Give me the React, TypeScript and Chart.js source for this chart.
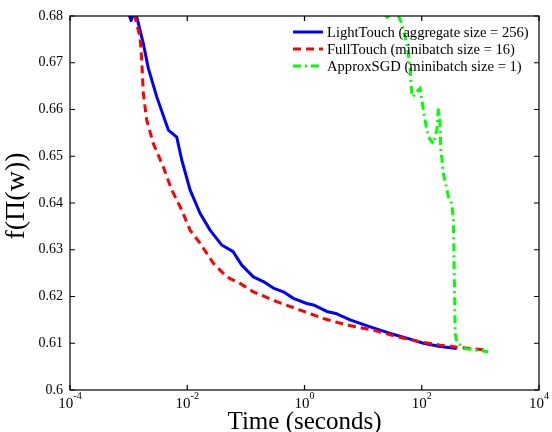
import { useEffect, useRef } from "react";
import { Chart, registerables } from "chart.js";

Chart.register(...registerables);

// ---- data ----
const seriesLabels = [
  "LightTouch (aggregate size = 256)",
  "FullTouch (minibatch size = 16)",
  "ApproxSGD (minibatch size = 1)",
];

const lightTouchX = [
  0.00101, 0.00110, 0.00121, 0.001374, 0.001782, 0.00217, 0.00302, 0.00476, 0.00662,
  0.00806, 0.01117, 0.01652, 0.0245, 0.0388, 0.0605, 0.0851, 0.134, 0.199, 0.294, 0.436,
  0.647, 1.094, 1.42, 2.40, 3.56, 6.0, 13.2, 28.9, 55.7, 107, 206, 397,
];
const lightTouchY = [
  0.6805, 0.6790, 0.6805, 0.6798, 0.6741, 0.6688, 0.6627, 0.6556, 0.6541,
  0.6492, 0.6428, 0.6378, 0.6342, 0.6310, 0.6296, 0.6267, 0.6242, 0.6232, 0.6218, 0.6210,
  0.6196, 0.6185, 0.6182, 0.6168, 0.6163, 0.6150, 0.6135, 0.6121, 0.6111, 0.6100, 0.6093, 0.6089,
];

const fullTouchX = [
  0.00121, 0.001285, 0.001566, 0.001675, 0.001782, 0.00204, 0.00264, 0.00391, 0.00544,
  0.00806, 0.01117, 0.0165, 0.0279, 0.0472, 0.0796, 0.134, 0.337, 0.841, 2.10, 5.27,
  15.0, 37.6, 94, 206, 452, 1130,
];
const fullTouchY = [
  0.6803, 0.6798, 0.6755, 0.6705, 0.6634, 0.6577, 0.6527, 0.6477, 0.6428,
  0.6385, 0.6342, 0.6314, 0.6271, 0.6242, 0.6228, 0.6210, 0.6189, 0.6171, 0.6153, 0.6139,
  0.6128, 0.6114, 0.6103, 0.6096, 0.6091, 0.6086,
];

const approxSgdX = [
  22.8, 25.7, 31.3, 40.0, 45.7, 55.7, 63.4, 67.8, 71.3, 82.4, 93.9, 100.4, 114, 130,
  158, 181, 193, 206, 210, 234, 286, 326, 347, 357, 372, 397, 530, 1360,
];
const approxSgdY = [
  0.6806, 0.6797, 0.6806, 0.6800, 0.6784, 0.6741, 0.6691, 0.6631, 0.6627, 0.6638, 0.6645,
  0.6620, 0.6577, 0.6541, 0.6527, 0.6556, 0.6602, 0.6570, 0.6520, 0.6463, 0.6413, 0.6399,
  0.6363, 0.6264, 0.6121, 0.6103, 0.6089, 0.6082,
];

const xTickValues = [1e-4, 1e-2, 1, 1e2, 1e4];
const xTickExponents = ["-4", "-2", "0", "2", "4"];
const yTickValues = [0.6, 0.61, 0.62, 0.63, 0.64, 0.65, 0.66, 0.67, 0.68];
const yTickLabels = ["0.6", "0.61", "0.62", "0.63", "0.64", "0.65", "0.66", "0.67", "0.68"];

const xTitle = "Time (seconds)";
const yTitle = "f(\u03A0(w))";

const SERIF = '"Liberation Serif", "DejaVu Serif", serif';

const toPoints = (xs: number[], ys: number[]) => xs.map((x, i) => ({ x, y: ys[i] }));

const matlabAxes = {
  id: "matlabAxes",
  afterDraw(chart: any) {
    const { ctx, chartArea } = chart;
    const { left, right, top, bottom } = chartArea;
    const xs = chart.scales.x;
    const ys = chart.scales.y;
    ctx.save();
    ctx.strokeStyle = "#000";
    ctx.lineWidth = 1.2;
    ctx.strokeRect(left, top, right - left, bottom - top);
    const tl = 5;
    ctx.fillStyle = "#000";
    xTickValues.forEach((v, i) => {
      const px = xs.getPixelForValue(v);
      ctx.beginPath();
      ctx.moveTo(px, bottom);
      ctx.lineTo(px, bottom - tl);
      ctx.moveTo(px, top);
      ctx.lineTo(px, top + tl);
      ctx.stroke();
      ctx.font = `15px ${SERIF}`;
      const baseW = ctx.measureText("10").width;
      ctx.font = `10px ${SERIF}`;
      const expW = ctx.measureText(xTickExponents[i]).width;
      const total = baseW + expW;
      const x0 = px - total / 2;
      ctx.textAlign = "left";
      ctx.textBaseline = "alphabetic";
      ctx.font = `15px ${SERIF}`;
      ctx.fillText("10", x0, bottom + 18);
      ctx.font = `10px ${SERIF}`;
      ctx.fillText(xTickExponents[i], x0 + baseW, bottom + 8.5);
    });
    yTickValues.forEach((v, i) => {
      const py = ys.getPixelForValue(v);
      ctx.beginPath();
      ctx.moveTo(left, py);
      ctx.lineTo(left + tl, py);
      ctx.moveTo(right, py);
      ctx.lineTo(right - tl, py);
      ctx.stroke();
      ctx.font = `14px ${SERIF}`;
      ctx.textAlign = "right";
      ctx.textBaseline = "middle";
      ctx.fillText(yTickLabels[i], left - 7, py);
    });
    ctx.font = `25px ${SERIF}`;
    ctx.textAlign = "center";
    ctx.textBaseline = "middle";
    ctx.fillText(xTitle, (left + right) / 2, bottom + 32);
    ctx.save();
    ctx.translate(17, 196);
    ctx.rotate(-Math.PI / 2);
    ctx.font = `28px ${SERIF}`;
    ctx.fillText(yTitle, 0, 0);
    ctx.restore();
    const lx0 = 293;
    const lx1 = 323;
    const rowY = [32, 49, 66];
    chart.data.datasets.forEach((ds: any, i: number) => {
      const y = rowY[i];
      ctx.save();
      ctx.strokeStyle = ds.borderColor;
      ctx.lineWidth = ds.borderWidth;
      ctx.setLineDash(ds.borderDash || []);
      ctx.beginPath();
      ctx.moveTo(lx0, y);
      ctx.lineTo(lx1, y);
      ctx.stroke();
      ctx.restore();
      ctx.font = `14.6px ${SERIF}`;
      ctx.textAlign = "left";
      ctx.textBaseline = "middle";
      ctx.fillStyle = "#000";
      ctx.fillText(ds.label, lx1 + 4, y + 1);
    });
    ctx.restore();
  },
};

export default function App() {
  const canvasRef = useRef<HTMLCanvasElement | null>(null);

  useEffect(() => {
    const canvas = canvasRef.current;
    if (!canvas) return;
    const chart = new Chart(canvas, {
      type: "line",
      data: {
        datasets: [
          {
            label: seriesLabels[0],
            data: toPoints(lightTouchX, lightTouchY),
            borderColor: "#0000ff",
            borderWidth: 3,
            pointRadius: 0,
            tension: 0,
            borderJoinStyle: "round",
            clip: 0,
            order: 3,
          },
          {
            label: seriesLabels[1],
            data: toPoints(fullTouchX, fullTouchY),
            borderColor: "#ff0000",
            borderWidth: 3,
            borderDash: [8, 5],
            pointRadius: 0,
            tension: 0,
            clip: 0,
            order: 2,
          },
          {
            label: seriesLabels[2],
            data: toPoints(approxSgdX, approxSgdY),
            borderColor: "#00ff00",
            borderWidth: 3,
            borderDash: [8, 4, 2, 4],
            pointRadius: 0,
            tension: 0,
            clip: 0,
            order: 1,
          },
        ],
      },
      options: {
        animation: false,
        responsive: false,
        devicePixelRatio: 1,
        layout: { padding: { left: 70, top: 16, right: 13, bottom: 42 } },
        plugins: { legend: { display: false }, tooltip: { enabled: false } },
        scales: {
          x: { type: "logarithmic", min: 1e-4, max: 1e4, display: false },
          y: { type: "linear", min: 0.6, max: 0.68, display: false },
        },
      },
      plugins: [matlabAxes],
    } as any);
    return () => chart.destroy();
  }, []);

  return (
    <div style={{ position: "fixed", left: 0, top: 0, width: 552, height: 432, background: "#fff" }}>
      <canvas ref={canvasRef} width={552} height={432} style={{ display: "block" }} />
    </div>
  );
}
